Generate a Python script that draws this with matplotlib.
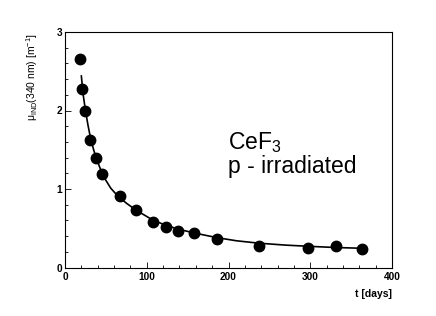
import numpy as np
import matplotlib
matplotlib.use('Agg')
import matplotlib.pyplot as plt

plt.rcParams['font.family'] = ['Liberation Sans', 'DejaVu Sans']
plt.rcParams['mathtext.fontset'] = 'custom'
plt.rcParams['mathtext.rm'] = 'Liberation Sans'
plt.rcParams['mathtext.it'] = 'Liberation Sans:italic'
plt.rcParams['mathtext.bf'] = 'Liberation Sans:bold'

# measured points
t_days = [18.3, 21.2, 24.9, 31.0, 38.3, 44.8, 66.9, 87.3, 108, 123, 137.8,
          157.8, 186.3, 237.3, 297.7, 331.9, 362.9]
mu_ind = [2.66, 2.27, 2.00, 1.63, 1.39, 1.19, 0.91, 0.73, 0.58, 0.52, 0.46,
          0.44, 0.36, 0.28, 0.25, 0.28, 0.23]

# fitted curve
fit_t = [20, 22, 25, 28, 31, 35, 38, 42, 45, 50, 56, 62, 67, 75, 87, 100,
         108, 123, 138, 158, 186, 210, 237, 270, 298, 330, 363]
fit_mu = [2.44, 2.22, 2.00, 1.82, 1.66, 1.50, 1.40, 1.29, 1.21, 1.11, 1.01,
          0.94, 0.89, 0.82, 0.73, 0.65, 0.60, 0.54, 0.49, 0.44, 0.38, 0.34,
          0.31, 0.285, 0.27, 0.255, 0.245]

fig = plt.figure(figsize=(4.36, 3.16), dpi=100)
ax = fig.add_axes([65/436, 1-267.5/316, 327/436, 235.5/316])

ax.plot(fit_t, fit_mu, color='black', lw=1.2, zorder=2)
ax.plot(t_days, mu_ind, 'o', color='black', ms=7.5, zorder=3)

ax.set_xlim(0, 400)
ax.set_ylim(0, 3)
ax.set_xticks([0, 100, 200, 300, 400])
ax.set_xticks(np.arange(0, 401, 20), minor=True)
ax.set_yticks([0, 1, 2, 3])
ax.set_yticks(np.arange(0, 3.01, 0.2), minor=True)
ax.tick_params(which='both', direction='in', width=0.6, labelsize=7.3)
ax.tick_params(which='major', length=4.3)
ax.tick_params(which='minor', length=2.2)
ax.tick_params(axis='x', pad=3)
ax.tick_params(axis='y', pad=2)
for lab in ax.get_xticklabels() + ax.get_yticklabels():
    lab.set_fontweight('bold')
for s in ax.spines.values():
    s.set_linewidth(0.8)

ax.text(400, -0.27, 't [days]', ha='right', va='top', fontsize=7.5,
        fontweight='bold')
fig.text(32/436, 1-33/316, r'μ$_{\mathrm{IND}}$(340 nm) [m$^{-1}$]',
         rotation=90, ha='center', va='top', fontsize=7.5)

# annotation, placed in axes fraction
ax.text((228-65)/327, (267.5-149)/235.5, r'CeF$_{3}$', fontsize=16.5,
        ha='left', va='baseline', transform=ax.transAxes)
ax.text((228-65)/327, (267.5-173)/235.5, 'p - irradiated', fontsize=16.5,
        ha='left', va='baseline', transform=ax.transAxes)

fig.savefig('out.png', dpi=100)
